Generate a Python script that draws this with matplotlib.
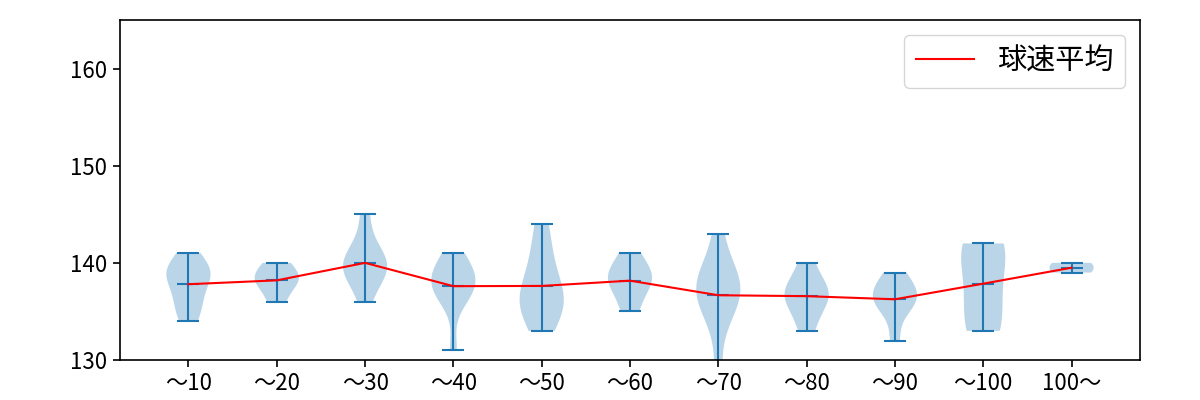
import numpy as np
import matplotlib
matplotlib.use("Agg")
import matplotlib.pyplot as plt

plt.rcParams['font.family'] = ['Noto Sans CJK JP', 'DejaVu Sans']

labels = ['〜10', '〜20', '〜30', '〜40', '〜50', '〜60', '〜70', '〜80', '〜90', '〜100', '100〜']

# pitch speeds (km/h) per bucket
speeds_10 = [134, 135, 136, 137, 138, 139, 139, 139, 140, 141]
speeds_20 = [136, 138, 138, 139, 140]
speeds_30 = [136, 138, 139, 139, 140, 140, 141, 142, 145]
speeds_40 = [131, 136, 137, 137, 138, 138, 139, 139, 140, 141]
speeds_50 = [133, 135, 136, 136, 137, 139, 141, 144]
speeds_60 = [135, 137, 138, 139, 139, 141]
speeds_70 = [128, 134, 136, 137, 137, 138, 138, 139, 143]
speeds_80 = [133, 135, 136, 137, 137, 138, 140]
speeds_90 = [132, 135, 136, 136, 137, 137, 138, 139]
speeds_100 = [133, 133, 136, 138, 141, 142, 142]
speeds_100up = [139, 140]

data = [speeds_10, speeds_20, speeds_30, speeds_40, speeds_50, speeds_60,
        speeds_70, speeds_80, speeds_90, speeds_100, speeds_100up]
pos = np.arange(1, len(data) + 1)
means = [np.mean(d) for d in data]

fig, ax = plt.subplots(figsize=(12, 4), dpi=100)
ax.violinplot(data, positions=pos, showmeans=True)
ax.plot(pos, means, color='red', lw=1.5, label='球速平均')
ax.set_xticks(pos)
ax.set_xticklabels(labels)
ax.set_yticks([130, 140, 150, 160])
ax.set_ylim(130, 165)
ax.tick_params(labelsize=16, length=5, width=1.2, pad=4)
for s in ax.spines.values():
    s.set_linewidth(1.2)
ax.legend(loc='upper right', fontsize=21)
fig.subplots_adjust(left=0.1, right=0.95, top=0.95, bottom=0.1)
fig.savefig('out.png')
